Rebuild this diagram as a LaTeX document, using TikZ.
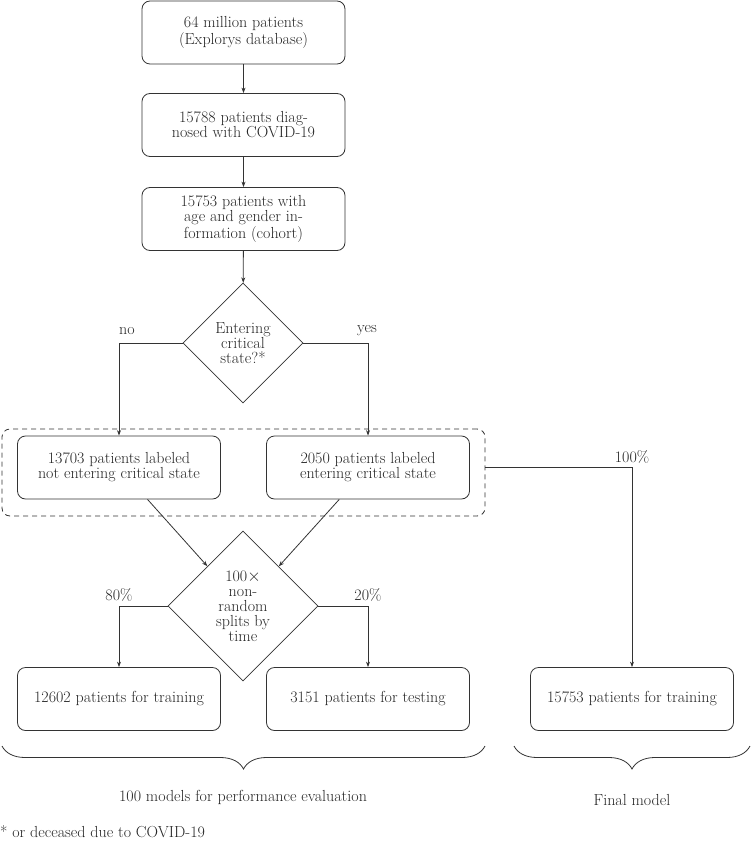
\documentclass[tikz,border=0pt]{standalone}
\usetikzlibrary{shapes.geometric,arrows.meta,decorations.pathreplacing}
\begin{document}
\begin{tikzpicture}[x=1pt,y=-1pt,
  every node/.style={font=\fontsize{16}{15}\selectfont, text=black!85},
  boxnode/.style={draw=black!80, line width=0.8pt, rounded corners=8pt, minimum width=203pt, minimum height=63pt, align=center, inner sep=2pt},
  decnode/.style={draw=black!80, line width=0.8pt, diamond, aspect=1, inner sep=0pt, align=center},
  conn/.style={draw=black!80, line width=0.8pt, -{Stealth[length=5.5pt,width=4pt]}},
  bracestyle/.style={draw=black!80, line width=0.8pt, decorate, decoration={brace, mirror, amplitude=23pt}},
  lbl/.style={inner sep=1pt}]
\useasboundingbox (0,0) rectangle (750,842);
\node[boxnode] (b1) at (243.5,32.5) {64 million patients\\(Explorys database)};
\node[boxnode] (b2) at (243.5,125) {15788 patients diag-\\nosed with COVID-19};
\node[boxnode] (b3) at (243.5,219) {15753 patients with\\age and gender in-\\formation (cohort)};
\node[decnode, minimum width=120pt, minimum height=120pt] (d1) at (243,343) {Entering\\critical\\state?*};
\node[draw=black!80, line width=0.8pt, dashed, dash pattern=on 5pt off 4pt, rounded corners=8pt, minimum width=483pt, minimum height=87pt] (grp) at (243.5,472.5) {};
\node[boxnode] (b4) at (119,467.5) {13703 patients labeled\\not entering critical state};
\node[boxnode] (b5) at (368,467.5) {2050 patients labeled\\entering critical state};
\node[decnode, minimum width=150pt, minimum height=150pt] (d2) at (243,606) {100$\times$\\non-\\random\\splits by\\time};
\node[boxnode] (b7) at (119,699) {12602 patients for training};
\node[boxnode] (b8) at (368,699) {3151 patients for testing};
\node[boxnode] (b9) at (632,699) {15753 patients for training};
\draw[conn] (b1) -- (b2);
\draw[conn] (b2) -- (b3);
\draw[conn] (b3) -- (d1);
\draw[conn] (d1.west) -| (b4);
\draw[conn] (d1.east) -| (b5);
\node[lbl] (lno) at (127,331) {no};
\node[lbl] (lyes) at (367,331) {yes};
\draw[conn] (b4) -- (d2);
\draw[conn] (b5) -- (d2);
\draw[conn] (d2.west) -| (b7);
\draw[conn] (d2.east) -| (b8);
\node[lbl] (l80) at (119,595) {80\%};
\node[lbl] (l20) at (368,595) {20\%};
\coordinate (gstart) at (grp.east |- b5.center);
\draw[conn] (gstart) -| (b9);
\node[lbl] (l100) at (632,457) {100\%};
\coordinate (br1a) at (2,746);
\coordinate (br1b) at (485,746);
\coordinate (br2a) at (514,746);
\coordinate (br2b) at (750,746);
\draw[bracestyle] (br1a) -- (br1b);
\draw[bracestyle] (br2a) -- (br2b);
\node (t1) at (243,797) {100 models for performance evaluation};
\node (t2) at (632,800) {Final model};
\node[anchor=west, inner sep=0pt] (fn) at (0,832) {* or deceased due to COVID-19};
\end{tikzpicture}
\end{document}
